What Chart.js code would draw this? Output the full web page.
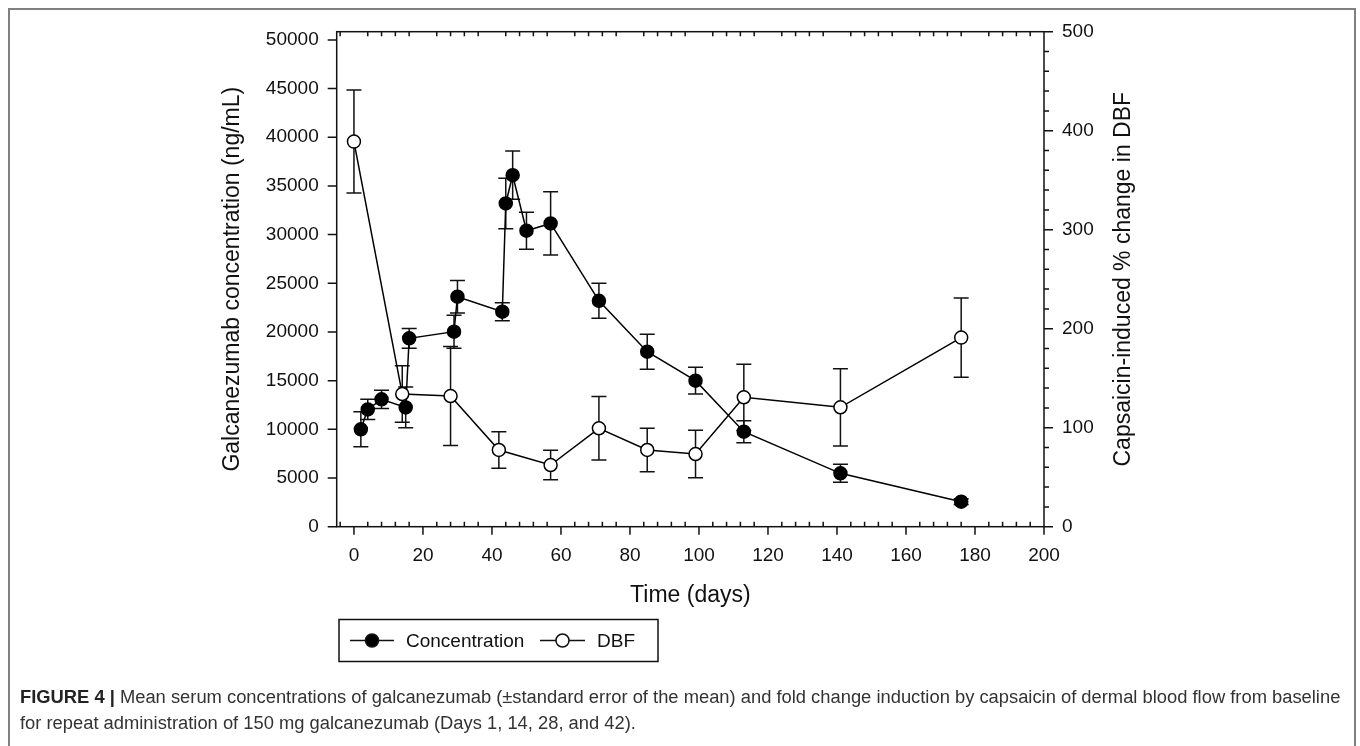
<!DOCTYPE html>
<html>
<head>
<meta charset="utf-8">
<script src="https://cdn.jsdelivr.net/npm/chart.js@4.4.1/dist/chart.umd.min.js"></script>
<style>
  html, body { margin: 0; padding: 0; background: #fff; }
  #wrap { position: relative; width: 1360px; height: 746px; overflow: hidden; }
  #frame { position: absolute; left: 8px; top: 8px; width: 1348px; height: 760px; border: 2px solid #808080; box-sizing: border-box; }
  #chart { position: absolute; left: 0; top: 0; }
  #caption { position: absolute; left: 20px; top: 684px; font-family: "Liberation Sans", Arial, sans-serif; font-size: 18.35px; color: #333; line-height: 26px; white-space: nowrap; }
  #caption b { color: #222; }
</style>
</head>
<body>
<div id="wrap">
  <div id="frame"></div>
  <canvas id="chart" width="1360" height="746"></canvas>
  <div id="caption"><b>FIGURE 4 |</b> Mean serum concentrations of galcanezumab (±standard error of the mean) and fold change induction by capsaicin of dermal blood flow from baseline<br>for repeat administration of 150 mg galcanezumab (Days 1, 14, 28, and 42).</div>
</div>
<script>
// fuente y colores comunes
const FONT = '"Liberation Sans", Arial, Helvetica, sans-serif';
const INK = '#111';

// ---- datos ----
const xTicks = [0, 20, 40, 60, 80, 100, 120, 140, 160, 180, 200];
const concTicks = [0, 5000, 10000, 15000, 20000, 25000, 30000, 35000, 40000, 45000, 50000];
const dbfTicks = [0, 100, 200, 300, 400, 500];

// Concentración (ng/mL) +- SEM
const concDays = [2, 4, 8, 15, 16, 29, 30, 43, 44, 46, 50, 57, 71, 85, 99, 113, 141, 176];
const concMean = [10000, 12050, 13080, 12250, 19350, 20030, 23620, 22080, 33200, 36100, 30400, 31150, 23200, 17970, 15000, 9760, 5480, 2570];
const concSem = [1800, 1030, 930, 2090, 1010, 1700, 1660, 920, 2600, 2480, 1890, 3250, 1800, 1800, 1370, 1130, 925, 300];

// DBF (% cambio) +- SEM
const dbfDays = [0, 14, 28, 42, 57, 71, 85, 99, 113, 141, 176];
const dbfMean = [389, 134, 132, 77.5, 62.3, 99.4, 77.5, 73.4, 130.7, 120.6, 191];
const dbfSem = [52, 28.5, 50, 18.5, 15, 32, 22, 24, 33.5, 39, 40];

function toPoints(xs, ys) {
  return xs.map((d, i) => ({ x: d, y: ys[i] }));
}

// etiquetas sin separador de miles
const plainLabel = v => String(v);

// barras de error, ejes tipo SigmaPlot, título derecho y leyenda
const sigmaStyle = {
  id: 'sigmaStyle',
  beforeDatasetsDraw(chart) {
    const ctx = chart.ctx;
    const sx = chart.scales.x;
    const sets = [
      { ys: chart.scales.y, days: concDays, mean: concMean, sem: concSem },
      { ys: chart.scales.y2, days: dbfDays, mean: dbfMean, sem: dbfSem }
    ];
    ctx.save();
    ctx.strokeStyle = INK;
    ctx.lineWidth = 1.5;
    sets.forEach(s => {
      s.days.forEach((d, i) => {
        const px = sx.getPixelForValue(d);
        const top = s.ys.getPixelForValue(s.mean[i] + s.sem[i]);
        const bot = s.ys.getPixelForValue(s.mean[i] - s.sem[i]);
        ctx.beginPath();
        ctx.moveTo(px, top); ctx.lineTo(px, bot);
        ctx.moveTo(px - 7.5, top); ctx.lineTo(px + 7.5, top);
        ctx.moveTo(px - 7.5, bot); ctx.lineTo(px + 7.5, bot);
        ctx.stroke();
      });
    });
    ctx.restore();
  },
  afterDraw(chart) {
    const ctx = chart.ctx;
    const a = chart.chartArea;
    const sx = chart.scales.x, sy = chart.scales.y, sy2 = chart.scales.y2;
    ctx.save();
    ctx.strokeStyle = INK;
    ctx.lineWidth = 1.5;
    ctx.strokeRect(a.left, a.top, a.right - a.left, a.bottom - a.top);
    ctx.beginPath();
    // eje izquierdo
    concTicks.forEach(v => {
      const py = sy.getPixelForValue(v);
      ctx.moveTo(a.left - 9, py); ctx.lineTo(a.left, py);
    });
    // eje derecho: mayores y menores
    for (let v = 0; v <= 500; v += 20) {
      const py = sy2.getPixelForValue(v);
      ctx.moveTo(a.right, py); ctx.lineTo(a.right + (v % 100 === 0 ? 9 : 5), py);
    }
    // eje x: mayores hacia fuera, menores hacia dentro (abajo y arriba)
    xTicks.forEach(v => {
      const px = sx.getPixelForValue(v);
      ctx.moveTo(px, a.bottom); ctx.lineTo(px, a.bottom + 8);
    });
    for (let v = -4; v < 200; v += 4) {
      if (v % 20 === 0) continue;
      const px = sx.getPixelForValue(v);
      ctx.moveTo(px, a.bottom); ctx.lineTo(px, a.bottom - 5);
      ctx.moveTo(px, a.top); ctx.lineTo(px, a.top + 4.5);
    }
    ctx.stroke();

    // título del eje derecho, leído de abajo hacia arriba
    ctx.save();
    ctx.translate(1124, (a.top + a.bottom) / 2);
    ctx.rotate(-Math.PI / 2);
    ctx.font = '23px ' + FONT;
    ctx.fillStyle = INK;
    ctx.textAlign = 'center';
    ctx.textBaseline = 'middle';
    ctx.fillText('Capsaicin-induced % change in DBF', 0, 0);
    ctx.restore();

    // leyenda
    const lx = 339, ly = 619.5, lw = 319, lh = 42;
    const cy = ly + lh / 2;
    ctx.strokeRect(lx, ly, lw, lh);
    ctx.font = '19px ' + FONT;
    ctx.fillStyle = INK;
    ctx.textBaseline = 'middle';
    const items = [
      { x0: 350, x1: 394, fill: '#000', label: 'Concentration', tx: 406 },
      { x0: 540, x1: 585, fill: '#fff', label: 'DBF', tx: 597 }
    ];
    items.forEach(it => {
      ctx.beginPath();
      ctx.moveTo(it.x0, cy); ctx.lineTo(it.x1, cy);
      ctx.stroke();
      ctx.beginPath();
      ctx.arc((it.x0 + it.x1) / 2, cy, 6.5, 0, Math.PI * 2);
      ctx.fillStyle = it.fill;
      ctx.fill();
      ctx.stroke();
      ctx.fillStyle = INK;
      ctx.fillText(it.label, it.tx, cy + 1);
    });
    ctx.restore();
  }
};

const ctxChart = document.getElementById('chart').getContext('2d');

const chart = new Chart(ctxChart, {
  type: 'line',
  data: {
    datasets: [
      {
        label: 'Concentration',
        data: toPoints(concDays, concMean),
        yAxisID: 'y',
        borderColor: '#000',
        borderWidth: 1.5,
        pointRadius: 6.5,
        pointBackgroundColor: '#000',
        pointBorderColor: '#000',
        pointBorderWidth: 1.5,
        tension: 0,
        order: 1
      },
      {
        label: 'DBF',
        data: toPoints(dbfDays, dbfMean),
        yAxisID: 'y2',
        borderColor: '#000',
        borderWidth: 1.5,
        pointRadius: 6.5,
        pointBackgroundColor: '#fff',
        pointBorderColor: '#000',
        pointBorderWidth: 1.5,
        tension: 0,
        order: 0
      }
    ]
  },
  options: {
    responsive: false,
    animation: false,
    events: [],
    layout: { padding: { top: 31.7, left: 0, right: 0, bottom: 0 } },
    plugins: {
      legend: { display: false },
      tooltip: { enabled: false }
    },
    scales: {
      x: {
        type: 'linear',
        position: 'bottom',
        min: -5,
        max: 200,
        afterBuildTicks: s => { s.ticks = xTicks.map(v => ({ value: v })); },
        afterFit: s => { s.height = 746 - 526.7; },
        grid: { display: false, drawTicks: false },
        border: { display: false },
        ticks: { font: { family: FONT, size: 19 }, color: INK, padding: 18, maxRotation: 0, autoSkip: false, callback: plainLabel },
        title: { display: true, text: 'Time (days)', font: { family: FONT, size: 23 }, color: INK, padding: { top: 0, bottom: 137 } }
      },
      y: {
        type: 'linear',
        position: 'left',
        min: 0,
        max: 50842,
        afterBuildTicks: s => { s.ticks = concTicks.map(v => ({ value: v })); },
        afterFit: s => { s.width = 336.7; },
        grid: { display: false, drawTicks: false },
        border: { display: false },
        ticks: { font: { family: FONT, size: 19 }, color: INK, padding: 18, callback: plainLabel },
        title: { display: true, text: 'Galcanezumab concentration (ng/mL)', font: { family: FONT, size: 23 }, color: INK, padding: { top: 219, bottom: 0 } }
      },
      y2: {
        type: 'linear',
        position: 'right',
        min: 0,
        max: 500,
        afterBuildTicks: s => { s.ticks = dbfTicks.map(v => ({ value: v })); },
        afterFit: s => { s.width = 1360 - 1044; },
        grid: { display: false, drawTicks: false },
        border: { display: false },
        ticks: { font: { family: FONT, size: 19 }, color: INK, padding: 18, callback: plainLabel },
        title: { display: false }
      }
    }
  },
  plugins: [sigmaStyle]
});
</script>
</body>
</html>
